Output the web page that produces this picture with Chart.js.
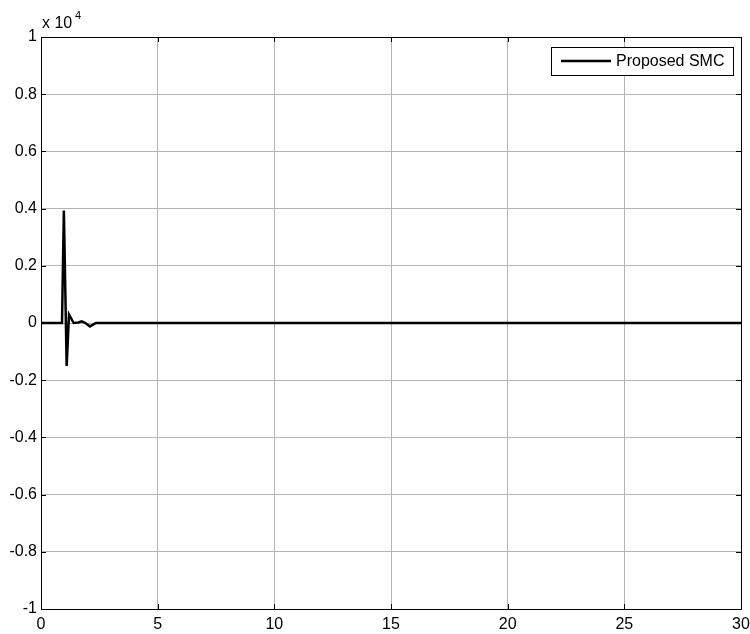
<!DOCTYPE html>
<html>
<head>
<meta charset="utf-8">
<script src="https://cdn.jsdelivr.net/npm/chart.js@4/dist/chart.umd.min.js"></script>
<style>
  html, body { margin: 0; padding: 0; background: #fff; }
  #wrap { width: 750px; height: 634px; }
</style>
</head>
<body>
<div id="wrap"><canvas id="smcChart" width="750" height="634"></canvas></div>
<script>
// time (s) and control signal values
const timeVals = [0, 0.9, 0.98, 1.1, 1.2, 1.4, 1.6, 1.75, 1.9, 2.1, 2.35, 30];
const smcVals = [0, 0, 3930, -1500, 300, 0, 20, 60, 0, -120, 0, 0];
const xTicks = [0, 5, 10, 15, 20, 25, 30];
const yTicks = [-10000, -8000, -6000, -4000, -2000, 0, 2000, 4000, 6000, 8000, 10000];

const FONT = "'Liberation Sans', Arial, sans-serif";

// frame, inward ticks, exponent label and legend box
const framePlugin = {
  id: "frame",
  afterDraw(chart) {
    const { ctx, chartArea: a, scales } = chart;
    ctx.save();
    ctx.strokeStyle = "#000";
    ctx.lineWidth = 1;
    ctx.strokeRect(a.left + 0.5, a.top + 0.5, a.right - a.left, a.bottom - a.top);

    ctx.beginPath();
    xTicks.forEach(v => {
      const px = Math.round(scales.x.getPixelForValue(v)) + 0.5;
      ctx.moveTo(px, a.bottom); ctx.lineTo(px, a.bottom - 5);
      ctx.moveTo(px, a.top); ctx.lineTo(px, a.top + 5);
    });
    yTicks.forEach(v => {
      const py = Math.round(scales.y.getPixelForValue(v)) + 0.5;
      ctx.moveTo(a.left, py); ctx.lineTo(a.left + 5, py);
      ctx.moveTo(a.right, py); ctx.lineTo(a.right - 5, py);
    });
    ctx.stroke();

    // x 10^4
    ctx.fillStyle = "#000";
    ctx.textBaseline = "alphabetic";
    ctx.font = "16px " + FONT;
    ctx.fillText("x 10", a.left + 1, a.top - 9);
    ctx.font = "11px " + FONT;
    ctx.fillText("4", a.left + 34, a.top - 18);

    // legend
    const lx = 551, ly = 47, lw = 182, lh = 28;
    ctx.fillStyle = "#fff";
    ctx.fillRect(lx, ly, lw, lh);
    ctx.strokeStyle = "#000";
    ctx.strokeRect(lx + 0.5, ly + 0.5, lw, lh);
    ctx.lineWidth = 2.5;
    ctx.beginPath();
    ctx.moveTo(561, ly + 14); ctx.lineTo(611, ly + 14);
    ctx.stroke();
    ctx.fillStyle = "#000";
    ctx.font = "16px " + FONT;
    ctx.textBaseline = "middle";
    ctx.fillText(chart.data.datasets[0].label, 616, ly + 15);
    ctx.restore();
  }
};

new Chart(document.getElementById("smcChart"), {
  type: "line",
  data: {
    datasets: [{
      label: "Proposed SMC",
      data: timeVals.map((t, i) => ({ x: t, y: smcVals[i] })),
      borderColor: "#000",
      borderWidth: 2.5,
      pointRadius: 0,
      fill: false,
      tension: 0
    }]
  },
  options: {
    responsive: false,
    animation: false,
    layout: { padding: { top: 37, right: 9, left: 0, bottom: 0 } },
    plugins: { legend: { display: false }, tooltip: { enabled: false } },
    scales: {
      x: {
        type: "linear",
        min: 0, max: 30,
        afterBuildTicks: s => { s.ticks = xTicks.map(v => ({ value: v })); },
        afterFit: s => { s.height = 25; s.paddingLeft = 0; s.paddingRight = 0; },
        grid: { color: "#b4b4b4", lineWidth: 1, drawTicks: false },
        border: { display: false },
        ticks: { color: "#000", font: { size: 16, family: FONT }, padding: 6, maxRotation: 0 }
      },
      y: {
        min: -10000, max: 10000,
        afterBuildTicks: s => { s.ticks = yTicks.map(v => ({ value: v })); },
        afterFit: s => { s.width = 41; s.paddingTop = 0; s.paddingBottom = 0; },
        grid: { color: "#b4b4b4", lineWidth: 1, drawTicks: false },
        border: { display: false },
        ticks: {
          color: "#000", font: { size: 16, family: FONT }, padding: 4,
          callback: v => String(Math.round(v / 1000) / 10)
        }
      }
    }
  },
  plugins: [framePlugin]
});
</script>
</body>
</html>
